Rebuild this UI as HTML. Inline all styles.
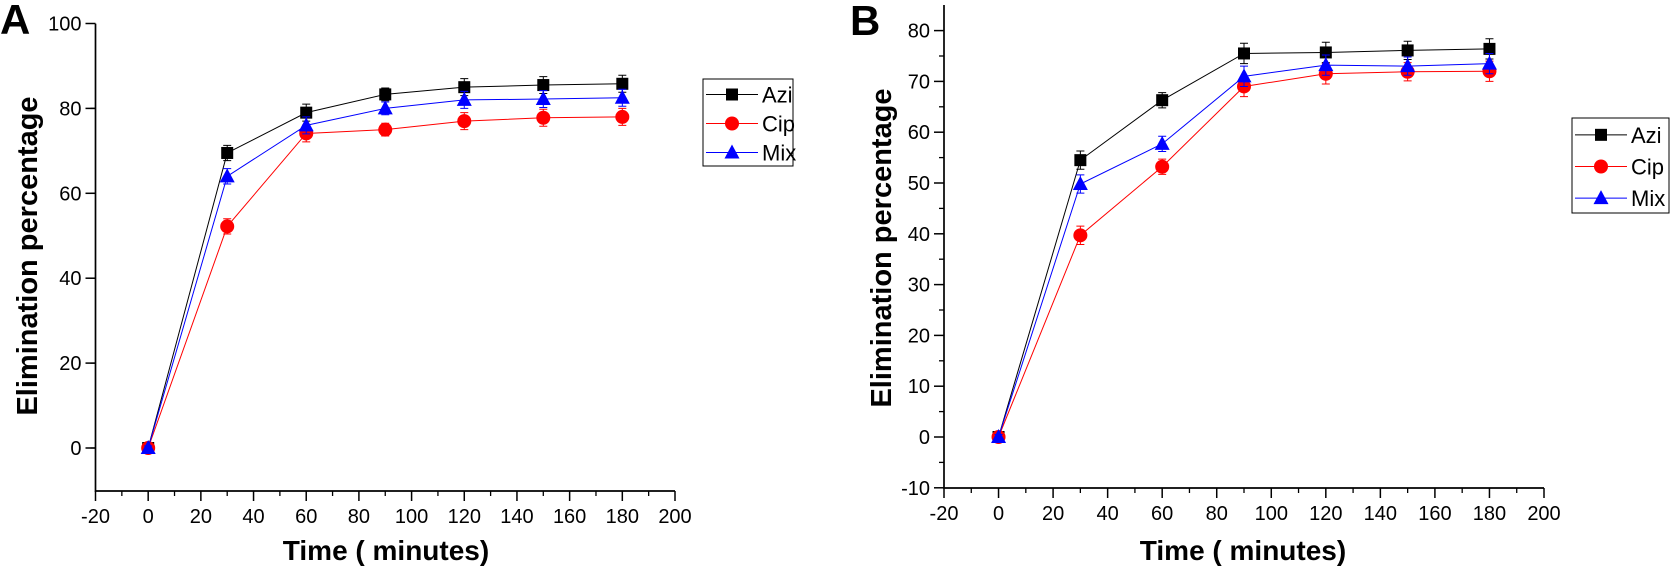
<!DOCTYPE html>
<html><head><meta charset="utf-8">
<style>
html,body{margin:0;padding:0;background:#fff;}
svg{display:block;font-family:"Liberation Sans",Arial,sans-serif;}
</style></head>
<body>
<svg id="chart" width="1676" height="570" viewBox="0 0 1676 570"></svg>
<script>
const categories = [0, 30, 60, 90, 120, 150, 180];
const seriesNames = ["Azi", "Cip", "Mix"];
const aAzi = [0, 69.5, 79, 83.3, 85, 85.5, 85.8];
const aCip = [0, 52.2, 74.1, 75, 77, 77.8, 78];
const aMix = [0, 64, 76, 80, 82, 82.2, 82.5];
const aErr = [0.5, 1.8, 2, 1.5, 2, 2, 2];
const bAzi = [0, 54.5, 66.3, 75.5, 75.7, 76.1, 76.4];
const bCip = [0, 39.7, 53.2, 69, 71.5, 71.9, 72];
const bMix = [0, 49.8, 57.7, 71, 73.2, 73, 73.5];
const bErr = [0.5, 1.8, 1.5, 2, 2, 1.8, 2];
const xTicks = [-20, 0, 20, 40, 60, 80, 100, 120, 140, 160, 180, 200];
const aYTicks = [0, 20, 40, 60, 80, 100];
const bYTicks = [-10, 0, 10, 20, 30, 40, 50, 60, 70, 80];

const NS = "http://www.w3.org/2000/svg";
const svg = document.getElementById("chart");
function el(tag, attrs, parent) {
  const e = document.createElementNS(NS, tag);
  for (const k in attrs) e.setAttribute(k, attrs[k]);
  (parent || svg).appendChild(e);
  return e;
}
const colors = {Azi: "#000", Cip: "#ff0000", Mix: "#0000ff"};

function marker(g, name, x, y, s) {
  let m;
  if (name === "Azi") m = el("rect", {x: x - s, y: y - s, width: 2 * s, height: 2 * s, fill: "#000"}, g);
  else if (name === "Cip") m = el("circle", {cx: x, cy: y, r: s + 1, fill: "#ff0000"}, g);
  else m = el("polygon", {points: `${x},${y - s - 2} ${x - s - 1.5},${y + s} ${x + s + 1.5},${y + s}`, fill: "#0000ff"}, g);
  return m;
}

function panel(cfg) {
  const g = el("g", {});
  
  
  const sx = v => cfg.x0 + (v + 20) / 220 * (cfg.x1 - cfg.x0);
  const sy = v => cfg.yZeroPx - v * cfg.pxPerUnit;
  const ax = el("path", {d: `M${cfg.x0},${cfg.top} V${cfg.bottom} H${cfg.x1}`, stroke: "#000", "stroke-width": 1.7, fill: "none"}, g);
  
  
  for (let i = 0; i < xTicks.length; i++) {
    const v = xTicks[i], x = sx(v);
    el("line", {x1: x, y1: cfg.bottom, x2: x, y2: cfg.bottom + 10, stroke: "#000", "stroke-width": 1.5}, g);
    if (i < xTicks.length - 1) {
      const xm = sx(v + 10);
      el("line", {x1: xm, y1: cfg.bottom, x2: xm, y2: cfg.bottom + 5, stroke: "#000", "stroke-width": 1.3}, g);
    }
    const t = el("text", {x: x, y: cfg.bottom + 32, "font-size": 20, "text-anchor": "middle"}, g);
    t.textContent = v;
    
    
  }
  const yt = cfg.yTicks;
  for (let i = 0; i < yt.length; i++) {
    const v = yt[i], y = sy(v);
    el("line", {x1: cfg.x0 - 10, y1: y, x2: cfg.x0, y2: y, stroke: "#000", "stroke-width": 1.5}, g);
    const t = el("text", {x: cfg.x0 - 14, y: y + 7, "font-size": 20, "text-anchor": "end"}, g);
    t.textContent = v;
    
    
  }
  const step = yt[1] - yt[0];
  for (let v = cfg.yMin + step / 2; v < cfg.yMax; v += step) {
    const y = sy(v);
    el("line", {x1: cfg.x0 - 5, y1: y, x2: cfg.x0, y2: y, stroke: "#000", "stroke-width": 1.3}, g);
  }
  const xt = el("text", {x: cfg.xTitleX, y: 560, "font-size": 28, "font-weight": "bold", "text-anchor": "middle"}, g);
  xt.textContent = "Time ( minutes)";
  
  
  const ytl = el("text", {x: 0, y: 0, "font-size": 29, "font-weight": "bold", "text-anchor": "middle", transform: `translate(${cfg.yTitleX},${cfg.yTitleY}) rotate(-90)`}, g);
  ytl.textContent = "Elimination percentage";
  
  
  const pl = el("text", {x: cfg.letterX, y: cfg.letterY, "font-size": 42, "font-weight": "bold"}, g);
  pl.textContent = cfg.letter;
  
  
  for (const name of seriesNames) {
    const vals = cfg.data[name];
    const sg = el("g", {}, g);
    
    
    const c = colors[name];
    let d = "";
    for (let i = 0; i < categories.length; i++) d += (i ? "L" : "M") + sx(categories[i]) + "," + sy(vals[i]);
    el("path", {d: d, stroke: c, "stroke-width": 1, fill: "none"}, sg);
    for (let i = 0; i < categories.length; i++) {
      const x = sx(categories[i]), y = sy(vals[i]), e = cfg.err[i];
      const y1 = sy(vals[i] + e), y2 = sy(vals[i] - e);
      el("path", {d: `M${x},${y1}V${y2}M${x - 4},${y1}H${x + 4}M${x - 4},${y2}H${x + 4}`, stroke: c, "stroke-width": 1, fill: "none"}, sg);
      const m = marker(sg, name, x, y, 6);
      
      
    }
  }
  const lg = el("g", {}, g);
  
  
  el("rect", {x: cfg.lx, y: cfg.ly, width: cfg.lw, height: cfg.lh, fill: "#fff", stroke: "#000", "stroke-width": 1}, lg);
  for (let i = 0; i < seriesNames.length; i++) {
    const name = seriesNames[i];
    const ey = cfg.ly + cfg.lh * (i + 0.5) / 3 + 1;
    const eg = el("g", {}, lg);
    
    
    el("line", {x1: cfg.lx + 3, y1: ey, x2: cfg.lx + 55, y2: ey, stroke: colors[name], "stroke-width": 1}, eg);
    marker(eg, name, cfg.lx + 29, ey, 6);
    const t = el("text", {x: cfg.lx + 59, y: ey + 8, "font-size": 22}, eg);
    t.textContent = name;
  }
}

panel({id: "panel-a", letter: "A", letterX: 0, letterY: 34, x0: 95.5, x1: 675, top: 23.6, bottom: 491,
  yZeroPx: 448, pxPerUnit: 4.245, yTicks: aYTicks, yMin: -10, yMax: 100,
  xTitleX: 386, yTitleX: 37, yTitleY: 256,
  data: {Azi: aAzi, Cip: aCip, Mix: aMix}, err: aErr,
  lx: 703, ly: 79, lw: 90, lh: 87});
panel({id: "panel-b", letter: "B", letterX: 850, letterY: 35, x0: 944, x1: 1544, top: 5, bottom: 488,
  yZeroPx: 437, pxPerUnit: 5.08, yTicks: bYTicks, yMin: -10, yMax: 85,
  xTitleX: 1243, yTitleX: 891, yTitleY: 248,
  data: {Azi: bAzi, Cip: bCip, Mix: bMix}, err: bErr,
  lx: 1572, ly: 118, lw: 97, lh: 95});
</script>
</body></html>
